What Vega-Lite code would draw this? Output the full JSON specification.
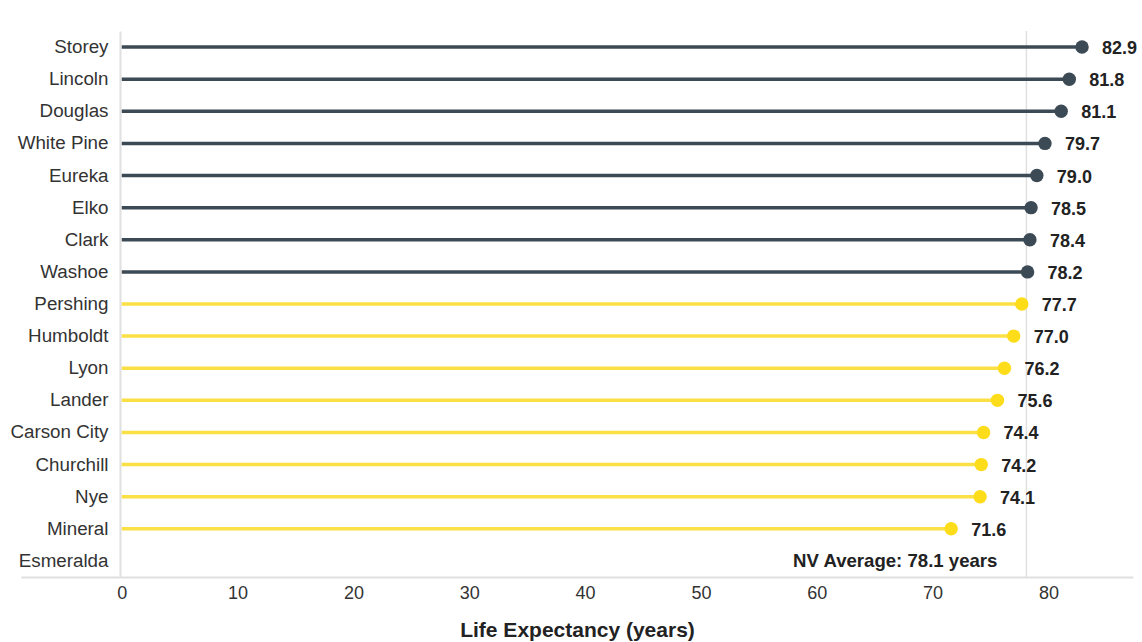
{
  "$schema": "https://vega.github.io/schema/vega-lite/v6.json",
  "autosize": {"type": "none"},
  "width": 1112,
  "height": 546,
  "padding": {"left": 21, "top": 31, "right": 9, "bottom": 65},
  "background": "white",
  "config": {"view": {"stroke": null}, "font": "Liberation Sans"},
  "datasets": {
    "counties": [
      {"county": "Storey", "value": 82.9, "group": "Above"},
      {"county": "Lincoln", "value": 81.8, "group": "Above"},
      {"county": "Douglas", "value": 81.1, "group": "Above"},
      {"county": "White Pine", "value": 79.7, "group": "Above"},
      {"county": "Eureka", "value": 79.0, "group": "Above"},
      {"county": "Elko", "value": 78.5, "group": "Above"},
      {"county": "Clark", "value": 78.4, "group": "Above"},
      {"county": "Washoe", "value": 78.2, "group": "Above"},
      {"county": "Pershing", "value": 77.7, "group": "Below"},
      {"county": "Humboldt", "value": 77.0, "group": "Below"},
      {"county": "Lyon", "value": 76.2, "group": "Below"},
      {"county": "Lander", "value": 75.6, "group": "Below"},
      {"county": "Carson City", "value": 74.4, "group": "Below"},
      {"county": "Churchill", "value": 74.2, "group": "Below"},
      {"county": "Nye", "value": 74.1, "group": "Below"},
      {"county": "Mineral", "value": 71.6, "group": "Below"},
      {"county": "Esmeralda", "value": null, "group": "None"}
    ],
    "average": [
      {"label": "NV Average: 78.1 years", "value": 78.1, "county": "Esmeralda"}
    ]
  },
  "layer": [
    {
      "data": {"name": "average"},
      "mark": {"type": "rule", "color": "#e0e0e0", "strokeWidth": 1.5},
      "encoding": {
        "x": {
          "field": "value",
          "type": "quantitative",
          "scale": {"domain": [-8.7, 87.3], "nice": false, "zero": false},
          "axis": {
            "values": [0, 10, 20, 30, 40, 50, 60, 70, 80],
            "grid": false,
            "ticks": false,
            "domain": true,
            "domainColor": "#e0e0e0",
            "domainWidth": 2,
            "labelFontSize": 18,
            "labelColor": "#333333",
            "labelPadding": 7,
            "labelFont": "Liberation Sans",
            "title": "Life Expectancy (years)",
            "titleFontSize": 21,
            "titleFontWeight": "bold",
            "titleColor": "#222222",
            "titleFont": "Liberation Sans",
            "titlePadding": 17
          }
        }
      }
    },
    {
      "data": {"name": "counties"},
      "mark": {"type": "rule", "strokeWidth": 3.5},
      "transform": [{"filter": "isValid(datum.value)"}],
      "encoding": {
        "y": {
          "field": "county",
          "type": "nominal",
          "scale": {
            "domain": ["Storey", "Lincoln", "Douglas", "White Pine", "Eureka", "Elko", "Clark", "Washoe", "Pershing", "Humboldt", "Lyon", "Lander", "Carson City", "Churchill", "Nye", "Mineral", "Esmeralda"],
            "paddingInner": 0,
            "paddingOuter": 0
          },
          "axis": {
            "title": null,
            "offset": -99,
            "domain": true,
            "domainColor": "#e0e0e0",
            "domainWidth": 2,
            "ticks": false,
            "labelPadding": 12,
            "labelFontSize": 18.8,
            "labelColor": "#333333",
            "labelFont": "Liberation Sans"
          }
        },
        "x": {"field": "value", "type": "quantitative"},
        "x2": {"datum": 0},
        "color": {
          "field": "group",
          "type": "nominal",
          "scale": {"domain": ["Above", "Below"], "range": ["#3b4a54", "#fbe045"]},
          "legend": null
        }
      }
    },
    {
      "data": {"name": "counties"},
      "transform": [{"filter": "isValid(datum.value)"}],
      "mark": {"type": "circle", "size": 180, "opacity": 1},
      "encoding": {
        "y": {"field": "county", "type": "nominal"},
        "x": {"field": "value", "type": "quantitative"},
        "fill": {
          "field": "group",
          "type": "nominal",
          "scale": {"domain": ["Above", "Below"], "range": ["#3b4a54", "#fddc1a"]},
          "legend": null
        }
      }
    },
    {
      "data": {"name": "counties"},
      "transform": [{"filter": "isValid(datum.value)"}],
      "mark": {"type": "text", "align": "left", "baseline": "middle", "dx": 20, "dy": 2, "fontSize": 18, "fontWeight": "bold", "color": "#222222", "font": "Liberation Sans"},
      "encoding": {
        "y": {"field": "county", "type": "nominal"},
        "x": {"field": "value", "type": "quantitative"},
        "text": {"field": "value", "type": "quantitative", "format": ".1f"}
      }
    },
    {
      "data": {"name": "average"},
      "mark": {"type": "text", "align": "right", "baseline": "middle", "dx": -29, "dy": 0, "fontSize": 18.6, "fontWeight": "bold", "color": "#222222", "font": "Liberation Sans"},
      "encoding": {
        "y": {"field": "county", "type": "nominal"},
        "x": {"field": "value", "type": "quantitative"},
        "text": {"field": "label"}
      }
    }
  ]
}
